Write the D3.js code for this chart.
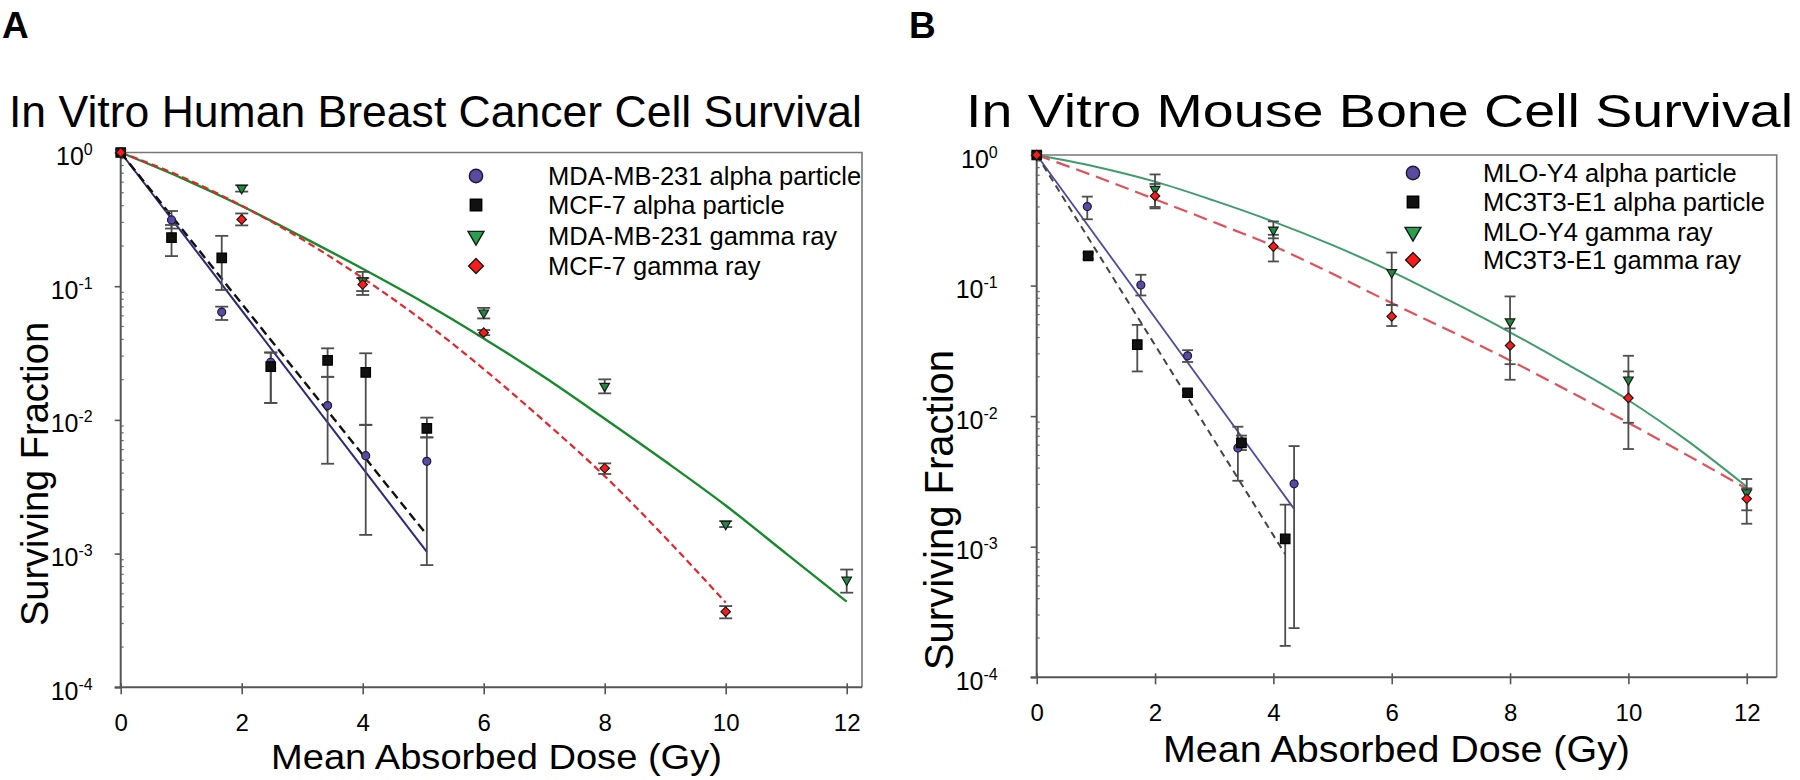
<!DOCTYPE html>
<html>
<head>
<meta charset="utf-8">
<script src="https://cdn.jsdelivr.net/npm/d3@7"></script>
<style>
  html, body { margin: 0; padding: 0; background: #fff; }
  svg { display: block; }
  text { font-family: "Liberation Sans", Arial, Helvetica, sans-serif; fill: #000; }
</style>
</head>
<body>
<svg id="chart" width="1800" height="780"></svg>
<script>
// ---------------- DATA: Panel A (human breast cancer) ----------------
const titleA = "In Vitro Human Breast Cancer Cell Survival";
const legendA = ["MDA-MB-231 alpha particle", "MCF-7 alpha particle", "MDA-MB-231 gamma ray", "MCF-7 gamma ray"];

const doseA_mdaAlpha = [0, 0.84, 1.67, 2.48, 3.42, 4.05, 5.06];
const sfA_mdaAlpha   = [1, 0.313, 0.064, 0.027, 0.0128, 0.0054, 0.0049];
const loA_mdaAlpha   = [null, 0.27, 0.0559, 0.0134, 0.0047, 0.00138, 0.00082];
const hiA_mdaAlpha   = [null, 0.365, 0.0703, 0.032, 0.021, 0.0092, 0.0074];

const doseA_mcfAlpha = [0, 0.84, 1.67, 2.48, 3.42, 4.05, 5.06];
const sfA_mcfAlpha   = [1, 0.231, 0.163, 0.025, 0.0279, 0.0227, 0.00865];
const loA_mcfAlpha   = [null, 0.168, 0.0937, 0.0134, 0.021, 0.00916, 0.0074];
const hiA_mcfAlpha   = [null, 0.287, 0.238, 0.0318, 0.0343, 0.0315, 0.0104];

const doseA_mdaGamma = [0, 2, 4, 6, 8, 10, 12];
const sfA_mdaGamma   = [1, 0.54, 0.11, 0.0633, 0.0179, 0.00166, 0.000635];
const loA_mdaGamma   = [null, 0.51, 0.086, 0.0574, 0.0158, 0.00158, 0.00051];
const hiA_mdaGamma   = [null, 0.57, 0.128, 0.0688, 0.0201, 0.00175, 0.00076];

const doseA_mcfGamma = [0, 2, 4, 6, 8, 10];
const sfA_mcfGamma   = [1, 0.316, 0.103, 0.0449, 0.00435, 0.000368];
const loA_mcfGamma   = [null, 0.285, 0.092, 0.043, 0.00394, 0.000328];
const hiA_mcfGamma   = [null, 0.35, 0.115, 0.047, 0.00473, 0.000405];

// fitted curves
const fitDoseA_mdaAlpha = [0, 5.06];
const fitSfA_mdaAlpha   = [1, 0.00103];
const fitDoseA_mcfAlpha = [0, 5.06];
const fitSfA_mcfAlpha   = [1, 0.00138];
const fitDoseA_mdaGamma = [0, 1, 2, 3, 4, 5, 6, 7, 8, 9, 10, 11, 12];
const fitSfA_mdaGamma   = [1, 0.646, 0.398, 0.234, 0.135, 0.0759, 0.0407, 0.0209, 0.0102, 0.0049, 0.00229, 0.0010, 0.000437];
const fitDoseA_mcfGamma = [0, 1, 2, 3, 4, 5, 6, 7, 8, 9, 10];
const fitSfA_mcfGamma   = [1, 0.66, 0.40, 0.224, 0.115, 0.055, 0.024, 0.0098, 0.0038, 0.00132, 0.00043];

// ---------------- DATA: Panel B (mouse bone) ----------------
const titleB = "In Vitro Mouse Bone Cell Survival";
const legendB = ["MLO-Y4 alpha particle", "MC3T3-E1 alpha particle", "MLO-Y4 gamma ray", "MC3T3-E1 gamma ray"];

const doseB_mloAlpha = [0, 0.855, 1.76, 2.55, 3.40, 4.35];
const sfB_mloAlpha   = [1, 0.403, 0.101, 0.029, 0.0057, 0.00303];
const loB_mloAlpha   = [null, 0.322, 0.084, 0.026, 0.0032, 0.000238];
const hiB_mloAlpha   = [null, 0.48, 0.121, 0.032, 0.0083, 0.0059];

const doseB_mcAlpha = [0, 0.87, 1.70, 2.55, 3.46, 4.20];
const sfB_mcAlpha   = [1, 0.169, 0.0353, 0.0151, 0.00625, 0.00115];
const loB_mcAlpha   = [null, 0.16, 0.022, 0.0143, 0.0055, 0.000174];
const hiB_mcAlpha   = [null, 0.178, 0.050, 0.016, 0.0071, 0.0021];

const doseB_mloGamma = [0, 2, 4, 6, 8, 10, 12];
const sfB_mloGamma   = [1, 0.547, 0.267, 0.126, 0.053, 0.019, 0.0026];
const loB_mloGamma   = [null, 0.40, 0.23, 0.071, 0.025, 0.0089, 0.0019];
const hiB_mloGamma   = [null, 0.71, 0.31, 0.179, 0.0826, 0.029, 0.0033];

const doseB_mcGamma = [0, 2, 4, 6, 8, 10, 12];
const sfB_mcGamma   = [1, 0.486, 0.199, 0.058, 0.0347, 0.0138, 0.00233];
const loB_mcGamma   = [null, 0.39, 0.153, 0.049, 0.019, 0.0056, 0.0015];
const hiB_mcGamma   = [null, 0.60, 0.245, 0.071, 0.047, 0.022, 0.0028];

const fitDoseB_mloAlpha = [0, 4.35];
const fitSfB_mloAlpha   = [1, 0.00195];
const fitDoseB_mcAlpha  = [0, 4.20];
const fitSfB_mcAlpha    = [1, 0.000875];
const fitDoseB_mloGamma = [0, 1, 2, 3, 4, 5, 6, 7, 8, 9, 10, 11, 12];
const fitSfB_mloGamma   = [1, 0.813, 0.625, 0.447, 0.309, 0.204, 0.128, 0.0759, 0.0439, 0.0245, 0.01324, 0.00646, 0.00288];
const fitDoseB_mcGamma  = [0, 1, 2, 3, 4, 5, 6, 7, 8, 9, 10, 11, 12];
const fitSfB_mcGamma    = [1, 0.684, 0.458, 0.305, 0.201, 0.123, 0.0735, 0.0446, 0.0267, 0.0155, 0.00889, 0.00501, 0.00278];

// shared axis ticks
const xTicks = [0, 2, 4, 6, 8, 10, 12];
const yExponents = [0, -1, -2, -3, -4];
const xLabel = "Mean Absorbed Dose (Gy)";
const yLabel = "Surviving Fraction";

// ---------------- DRAWING ----------------
const svg = d3.select("#chart");
const zip = (xs, ys, lo, hi) => xs.map((x, i) => ({x, y: ys[i], lo: lo ? lo[i] : null, hi: hi ? hi[i] : null}));

const markerDefs = {
  circle:   {type: d3.symbolCircle,  size: 50,  rot: 0,   fill: "#5a4b9f", stroke: "#1b1840"},
  square:   {type: d3.symbolSquare,  size: 90,  rot: 0,   fill: "#111",    stroke: "#000"},
  triangle: {type: d3.symbolTriangle,size: 40,  rot: 180, fill: "#1f8a3f", stroke: "#1a1a1a"},
  diamond:  {type: d3.symbolSquare,  size: 45,  rot: 45,  fill: "#ff1a1a", stroke: "#1a1a1a"}
};
const legendSize = {circle: 140, square: 130, triangle: 110, diamond: 110};
const legendFill = {triangle: "#2aa04e"};

function drawPanel(cfg) {
  const g = svg.append("g");
  const x = d3.scaleLinear().domain([0, cfg.xMax]).range([cfg.left, cfg.right]);
  const y = d3.scaleLog().domain([1e-4, 1]).range([cfg.bottom, cfg.top]);

  // frame (top & right)
  g.append("path")
    .attr("d", `M${cfg.left},${cfg.top}H${cfg.right}V${cfg.bottom}`)
    .attr("fill", "none").attr("stroke", "#777").attr("stroke-width", 1.6);

  // x axis
  const xAxis = d3.axisBottom(x).tickValues(xTicks).tickSize(7).tickFormat("");
  const gx = g.append("g").attr("transform", `translate(0,${cfg.bottom})`).call(xAxis);
  gx.select(".domain").attr("d", `M${cfg.left - 6},0H${cfg.right}`).attr("stroke", "#555").attr("stroke-width", 2);
  gx.selectAll(".tick line").attr("y1", -4).attr("stroke", "#555").attr("stroke-width", 1.6);
  gx.selectAll(".tick").append("text")
    .attr("y", cfg.xTickDy).attr("text-anchor", "middle")
    .style("font-size", cfg.tickFont + "px").text(d => d);

  // y axis
  const yMajor = yExponents.map(e => Math.pow(10, e));
  const yAxis = d3.axisLeft(y).tickValues(yMajor).tickSize(6).tickFormat("");
  const gy = g.append("g").attr("transform", `translate(${cfg.left},0)`).call(yAxis);
  gy.select(".domain").attr("d", `M0,${cfg.top}V${cfg.bottom}`).attr("stroke", "#555").attr("stroke-width", 2);
  gy.selectAll(".tick line").attr("x2", -6).attr("stroke", "#555").attr("stroke-width", 1.6);
  const lab = gy.selectAll(".tick").append("text")
    .attr("x", -cfg.yLabGap).attr("y", 12).attr("text-anchor", "end")
    .style("font-size", cfg.yTickFont + "px");
  lab.append("tspan").text("10");
  lab.append("tspan").attr("dy", -10).style("font-size", (cfg.yTickFont * 0.64) + "px")
    .text(d => { const e = Math.round(Math.log10(d)); return e === 0 ? "0" : "-" + (-e); });

  // minor ticks
  const minors = [];
  for (let e = -4; e < 0; e++) for (let m = 2; m <= 9; m++) minors.push(m * Math.pow(10, e));
  g.append("g").selectAll("line").data(minors).join("line")
    .attr("x1", cfg.left).attr("x2", cfg.left + 3)
    .attr("y1", d => y(d)).attr("y2", d => y(d))
    .attr("stroke", "#666").attr("stroke-width", 1.2);

  // fitted lines
  const line = d3.line().x(d => x(d.x)).y(d => y(d.y)).curve(d3.curveMonotoneX);
  cfg.fits.forEach(f => {
    g.append("path").datum(zip(f.x, f.y))
      .attr("d", line).attr("fill", "none")
      .attr("stroke", f.color).attr("stroke-width", f.width)
      .attr("stroke-dasharray", f.dash || null);
  });

  // error bars
  const capW = cfg.capW;
  cfg.series.forEach(s => {
    const pts = zip(s.x, s.y, s.lo, s.hi).filter(d => d.lo != null);
    const eb = g.append("g").attr("stroke", "#4d4d4d").attr("stroke-width", 1.8);
    pts.forEach(d => {
      const px = x(d.x);
      eb.append("line").attr("x1", px).attr("x2", px).attr("y1", y(d.lo)).attr("y2", y(d.hi));
      eb.append("line").attr("x1", px - capW / 2).attr("x2", px + capW / 2).attr("y1", y(d.lo)).attr("y2", y(d.lo));
      eb.append("line").attr("x1", px - capW / 2).attr("x2", px + capW / 2).attr("y1", y(d.hi)).attr("y2", y(d.hi));
    });
  });

  // markers
  cfg.series.forEach(s => {
    const m = markerDefs[s.marker];
    g.append("g").selectAll("path").data(zip(s.x, s.y)).join("path")
      .attr("d", d3.symbol().type(m.type).size(m.size))
      .attr("transform", d => `translate(${x(d.x)},${y(d.y)}) rotate(${m.rot})`)
      .attr("fill", m.fill).attr("stroke", m.stroke).attr("stroke-width", 1.2);
  });

  // legend
  cfg.series.forEach((s, i) => {
    const m = markerDefs[s.marker];
    const ry = cfg.legendRows[i];
    g.append("path")
      .attr("d", d3.symbol().type(m.type).size(legendSize[s.marker]))
      .attr("transform", `translate(${cfg.legendSymX},${ry}) rotate(${m.rot})`)
      .attr("fill", legendFill[s.marker] || m.fill).attr("stroke", m.stroke).attr("stroke-width", 1.4);
    g.append("text").attr("x", cfg.legendTextX).attr("y", ry + 9)
      .style("font-size", cfg.legendFont + "px").text(s.name);
  });

  // titles
  const t = g.append("text").attr("x", cfg.titleX).attr("y", 127)
    .style("font-size", cfg.titleFont + "px").text(cfg.title);
  if (cfg.titleLen) t.attr("textLength", cfg.titleLen).attr("lengthAdjust", "spacingAndGlyphs");

  g.append("text").attr("x", cfg.panelX).attr("y", 38)
    .style("font-size", "37px").style("font-weight", "bold").text(cfg.panel);

  g.append("text").attr("x", cfg.xLabX).attr("y", cfg.xLabY)
    .attr("textLength", cfg.xLabLen).attr("lengthAdjust", "spacingAndGlyphs")
    .style("font-size", cfg.axisFont + "px").text(xLabel);

  g.append("text").attr("transform", `translate(${cfg.yLabX},${cfg.yLabY}) rotate(-90)`)
    .attr("text-anchor", "middle").style("font-size", cfg.yAxisFont + "px").text(yLabel);
}

drawPanel({
  panel: "A", panelX: 2, title: titleA, titleX: 9, titleFont: 45, titleLen: 853,
  left: 120.7, right: 862, top: 152.5, bottom: 687.3, xMax: (862 - 120.7) / 60.5,
  xTickDy: 44, tickFont: 24, yTickFont: 25, yLabGap: 28,
  axisFont: 35, yAxisFont: 38, xLabX: 271, xLabLen: 451, xLabY: 769, yLabX: 48, yLabY: 474,
  capW: 13, legendSymX: 476, legendTextX: 548, legendRows: [176, 205, 236, 266], legendFont: 25.5,
  series: [
    {name: legendA[0], marker: "circle",   x: doseA_mdaAlpha, y: sfA_mdaAlpha, lo: loA_mdaAlpha, hi: hiA_mdaAlpha},
    {name: legendA[1], marker: "square",   x: doseA_mcfAlpha, y: sfA_mcfAlpha, lo: loA_mcfAlpha, hi: hiA_mcfAlpha},
    {name: legendA[2], marker: "triangle", x: doseA_mdaGamma, y: sfA_mdaGamma, lo: loA_mdaGamma, hi: hiA_mdaGamma},
    {name: legendA[3], marker: "diamond",  x: doseA_mcfGamma, y: sfA_mcfGamma, lo: loA_mcfGamma, hi: hiA_mcfGamma}
  ],
  fits: [
    {x: fitDoseA_mdaGamma, y: fitSfA_mdaGamma, color: "#178a2c", width: 2.4},
    {x: fitDoseA_mcfGamma, y: fitSfA_mcfGamma, color: "#e3262b", width: 2.2, dash: "7,4"},
    {x: fitDoseA_mdaAlpha, y: fitSfA_mdaAlpha, color: "#2b2a78", width: 2},
    {x: fitDoseA_mcfAlpha, y: fitSfA_mcfAlpha, color: "#111", width: 2.4, dash: "9,5"}
  ]
});

drawPanel({
  panel: "B", panelX: 909, title: titleB, titleX: 966, titleFont: 46, titleLen: 827,
  left: 1036.7, right: 1776.7, top: 155, bottom: 677.3, xMax: (1776.7 - 1036.7) / 59.17,
  xTickDy: 44, tickFont: 24, yTickFont: 25, yLabGap: 39,
  axisFont: 36, yAxisFont: 40, xLabX: 1163, xLabLen: 467, xLabY: 762, yLabX: 953, yLabY: 510,
  capW: 11, legendSymX: 1413, legendTextX: 1483, legendRows: [173, 202, 232, 260], legendFont: 25.5,
  series: [
    {name: legendB[0], marker: "circle",   x: doseB_mloAlpha, y: sfB_mloAlpha, lo: loB_mloAlpha, hi: hiB_mloAlpha},
    {name: legendB[1], marker: "square",   x: doseB_mcAlpha,  y: sfB_mcAlpha,  lo: loB_mcAlpha,  hi: hiB_mcAlpha},
    {name: legendB[2], marker: "triangle", x: doseB_mloGamma, y: sfB_mloGamma, lo: loB_mloGamma, hi: hiB_mloGamma},
    {name: legendB[3], marker: "diamond",  x: doseB_mcGamma,  y: sfB_mcGamma,  lo: loB_mcGamma,  hi: hiB_mcGamma}
  ],
  fits: [
    {x: fitDoseB_mloGamma, y: fitSfB_mloGamma, color: "#3f9c6c", width: 2},
    {x: fitDoseB_mcGamma,  y: fitSfB_mcGamma,  color: "#e2505a", width: 2.2, dash: "14,7"},
    {x: fitDoseB_mloAlpha, y: fitSfB_mloAlpha, color: "#4b4a9c", width: 1.8},
    {x: fitDoseB_mcAlpha,  y: fitSfB_mcAlpha,  color: "#444", width: 2, dash: "7,5"}
  ]
});
</script>
</body>
</html>
